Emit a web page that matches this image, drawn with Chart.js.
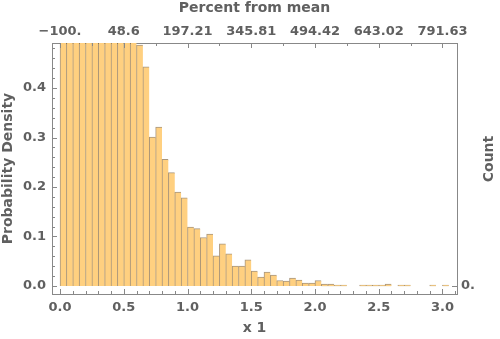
<!DOCTYPE html>
<html lang="en">
<head>
  <meta charset="UTF-8" />
  <title>Histogram</title>
  <script src="https://cdn.jsdelivr.net/npm/chart.js"></script>
  <style>
    body { margin: 0; background: #fff; }
    #wrap { width: 500px; height: 339px; position: relative; }
  </style>
</head>
<body>
  <div id="wrap"><canvas id="hist"></canvas></div>

  <script>
    // bin left edges (width 0.05) and probability density per bin
    const binLeft = [
      0.00, 0.05, 0.10, 0.15, 0.20, 0.25, 0.30, 0.35, 0.40, 0.45,
      0.50, 0.55, 0.60, 0.65, 0.70, 0.75, 0.80, 0.85, 0.90, 0.95,
      1.00, 1.05, 1.10, 1.15, 1.20, 1.25, 1.30, 1.35, 1.40, 1.45,
      1.50, 1.55, 1.60, 1.65, 1.70, 1.75, 1.80, 1.85, 1.90, 1.95,
      2.00, 2.05, 2.10, 2.15, 2.20, 2.25, 2.30, 2.35, 2.40, 2.45,
      2.50, 2.55, 2.60, 2.65, 2.70, 2.75, 2.80, 2.85, 2.90, 2.95,
      3.00
    ];
    const density = [
      1.55, 1.62, 1.58, 1.52, 1.45, 1.40, 1.35, 1.28, 1.20, 1.10,
      0.95, 0.70, 0.487, 0.443, 0.301, 0.321, 0.256, 0.229, 0.190, 0.178,
      0.119, 0.116, 0.098, 0.105, 0.061, 0.085, 0.065, 0.040, 0.040, 0.053,
      0.030, 0.018, 0.028, 0.022, 0.011, 0.010, 0.016, 0.012, 0.006, 0.006,
      0.011, 0.004, 0.004, 0.002, 0.002, null, null, 0.002, 0.002, 0.002,
      0.002, 0.004, null, 0.002, 0.002, null, null, null, 0.002, null,
      0.002
    ];
    const binWidth = 0.05;

    const xTickValues = [0, 0.5, 1, 1.5, 2, 2.5, 3];
    const xTickLabels = ['0.0', '0.5', '1.0', '1.5', '2.0', '2.5', '3.0'];
    const topTickLabels = ['\u2212100.', '48.6', '197.21', '345.81', '494.42', '643.02', '791.63'];
    const yTickValues = [0, 0.1, 0.2, 0.3, 0.4];
    const yTickLabels = ['0.0', '0.1', '0.2', '0.3', '0.4'];
    const countTickValues = [0];
    const countTickLabels = ['0.'];

    const textColor = '#606060';
    const frameColor = '#888';
    const font = { family: 'DejaVu Sans', size: 13, weight: 'bold' };
    const titleFont = { family: 'DejaVu Sans', size: 14, weight: 'bold' };

    // major ticks with labels + unlabeled minor ticks
    const makeTicks = (majors, labels, step, lo, hi) => {
      const out = majors.map((v, i) => ({ value: v, lab: labels[i], big: true }));
      const n = Math.round((hi - lo) / step);
      for (let k = 0; k <= n; k++) {
        const v = +(lo + k * step).toFixed(4);
        if (!majors.some(m => Math.abs(m - v) < 1e-6)) out.push({ value: v, lab: '', big: false });
      }
      return out.sort((a, b) => a.value - b.value);
    };

    const labelCb = (v, i, ticks) => ticks[i].lab || '';

    // Mathematica style ticks pointing into the frame, plus the right-hand title
    const innerTicks = {
      id: 'innerTicks',
      afterDraw(chart) {
        const { ctx, chartArea: a } = chart;
        ctx.save();
        ctx.strokeStyle = frameColor;
        ctx.lineWidth = 1;
        ctx.beginPath();
        Object.values(chart.scales).forEach(s => {
          s.ticks.forEach(t => {
            const p = Math.round(s.getPixelForValue(t.value)) + 0.5;
            const len = t.big ? 5 : 3;
            if (s.position === 'bottom') { ctx.moveTo(p, a.bottom); ctx.lineTo(p, a.bottom - len); }
            if (s.position === 'top') { ctx.moveTo(p, a.top); ctx.lineTo(p, a.top + len); }
            if (s.position === 'left') { ctx.moveTo(a.left, p); ctx.lineTo(a.left + len, p); }
            if (s.position === 'right') { ctx.moveTo(a.right, p); ctx.lineTo(a.right - len, p); }
          });
        });
        ctx.stroke();

        // "Count" reads bottom-to-top like the left title
        ctx.translate(489, 159);
        ctx.rotate(-Math.PI / 2);
        ctx.fillStyle = textColor;
        ctx.font = 'bold 14px "DejaVu Sans"';
        ctx.textAlign = 'center';
        ctx.textBaseline = 'middle';
        ctx.fillText('Count', 0, 0);
        ctx.restore();
      }
    };

    const xMin = -0.063, xMax = 3.114;
    const yMin = -0.0162, yMax = 0.491;

    const axisBase = (pos, size, pad) => ({
      position: pos,
      grid: { display: false, drawTicks: false },
      border: { display: true, color: frameColor, width: 1 },
      ticks: { color: textColor, font: font, padding: pad, autoSkip: false, maxRotation: 0, callback: labelCb },
      afterFit: (s) => { if (pos === 'left' || pos === 'right') s.width = size; else s.height = size; }
    });

    new Chart(document.getElementById('hist'), {
      type: 'bar',
      data: {
        datasets: [{
          data: binLeft.map((b, i) => ({ x: b + binWidth / 2, y: density[i] })),
          backgroundColor: 'rgb(255, 208, 128)',
          borderColor: 'rgba(110, 80, 40, 0.6)',
          borderWidth: { top: 1, left: 1, right: 0, bottom: 0 },
          borderSkipped: false,
          barPercentage: 1,
          categoryPercentage: 1,
          clip: 0
        }]
      },
      options: {
        responsive: true,
        maintainAspectRatio: false,
        animation: false,
        layout: { padding: 0 },
        plugins: { legend: { display: false }, tooltip: { enabled: false } },
        scales: {
          x: Object.assign(axisBase('bottom', 45, 6), {
            type: 'linear', offset: false, min: xMin, max: xMax,
            afterBuildTicks: (s) => { s.ticks = makeTicks(xTickValues, xTickLabels, 0.1, 0, 3.1); },
            title: { display: true, text: 'x 1', color: textColor, font: titleFont, padding: { top: 0, bottom: 2 } }
          }),
          x2: Object.assign(axisBase('top', 43, 4), {
            type: 'linear', offset: false, min: xMin, max: xMax,
            afterBuildTicks: (s) => { s.ticks = makeTicks(xTickValues, topTickLabels, 0.25, 0, 3.0); },
            title: { display: true, text: 'Percent from mean', color: textColor, font: titleFont, padding: { top: 0, bottom: 0 } }
          }),
          y: Object.assign(axisBase('left', 52, 6), {
            min: yMin, max: yMax,
            afterBuildTicks: (s) => { s.ticks = makeTicks(yTickValues, yTickLabels, 0.02, 0, 0.48); },
            title: { display: true, text: 'Probability Density', color: textColor, font: titleFont, padding: { top: 0, bottom: 0 } }
          }),
          y2: Object.assign(axisBase('right', 43, 4), {
            min: yMin, max: yMax,
            afterBuildTicks: (s) => { s.ticks = makeTicks(countTickValues, countTickLabels, 1, 0, 0); }
          })
        }
      },
      plugins: [innerTicks]
    });
  </script>
</body>
</html>
